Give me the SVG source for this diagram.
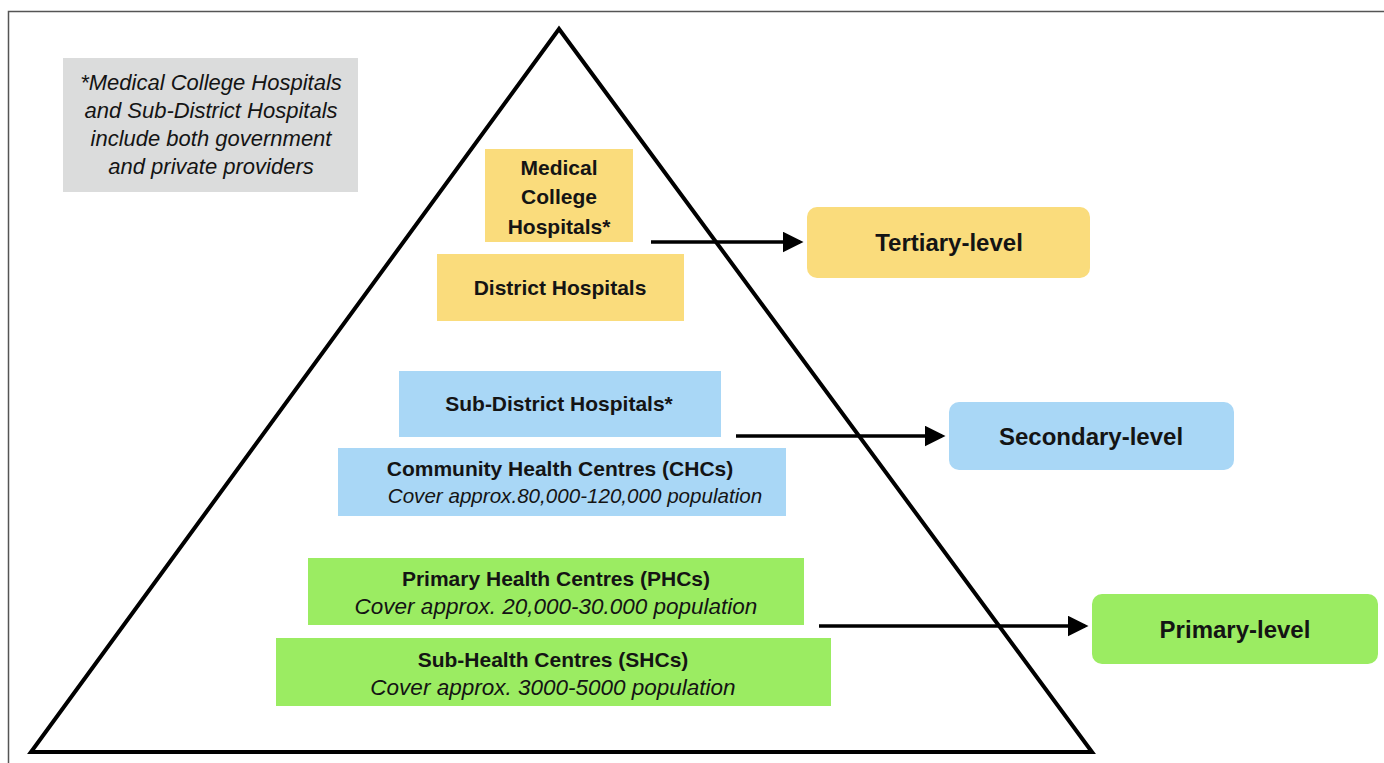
<svg xmlns="http://www.w3.org/2000/svg" width="1384" height="763" viewBox="0 0 1384 763">
<style>
.b{font-family:"Liberation Sans",Arial,sans-serif;font-weight:bold;font-size:21px;fill:#141414;text-anchor:middle}
.i{font-family:"Liberation Sans",Arial,sans-serif;font-style:italic;font-size:20.6px;fill:#141414;text-anchor:middle}
.n{font-size:22px}
.p{font-size:22.5px}
.lv{font-size:24px}
.y{fill:#fadc7c}
.bl{fill:#a9d7f6}
.g{fill:#9bec62}
.c{stroke:#000;stroke-width:3.5;fill:none}
</style>
<defs>
<marker id="ah" markerWidth="6" markerHeight="6" refX="5" refY="3" orient="auto" markerUnits="strokeWidth">
<path d="M0,0 L6,3 L0,6 z" fill="#000"/>
</marker>
</defs>
<rect width="1384" height="763" fill="#fff"/>
<path d="M8.5,763 V11.5 H1384" stroke="#555" stroke-width="1.5" fill="none"/>
<g id="pyramid">
<polygon points="559,29 31,752 1092,752" fill="none" stroke="#000" stroke-width="4" stroke-linejoin="miter"/>
</g>
<g id="note">
<rect x="63" y="58" width="295" height="134" fill="#dbdcdc"/>
<text class="i n" x="211" y="90">*Medical College Hospitals</text>
<text class="i n" x="211" y="118">and Sub-District Hospitals</text>
<text class="i n" x="211" y="146">include both government</text>
<text class="i n" x="211" y="174">and private providers</text>
</g>
<g id="medical-college">
<rect class="y" x="485" y="149" width="148" height="93"/>
<text class="b" x="559" y="175">Medical</text>
<text class="b" x="559" y="204">College</text>
<text class="b" x="559" y="234">Hospitals*</text>
</g>
<g id="district">
<rect class="y" x="437" y="254" width="247" height="67"/>
<text class="b" x="560" y="295">District Hospitals</text>
</g>
<g id="sub-district">
<rect class="bl" x="399" y="371" width="322" height="66"/>
<text class="b" x="559" y="411">Sub-District Hospitals*</text>
</g>
<g id="chc">
<rect class="bl" x="338" y="448" width="448" height="68"/>
<text class="b" x="560" y="476">Community Health Centres (CHCs)</text>
<text class="i" x="575" y="503">Cover approx.80,000-120,000 population</text>
</g>
<g id="phc">
<rect class="g" x="308" y="558" width="496" height="67"/>
<text class="b" x="556" y="586">Primary Health Centres (PHCs)</text>
<text class="i p" x="556" y="614">Cover approx. 20,000-30.000 population</text>
</g>
<g id="shc">
<rect class="g" x="276" y="638" width="555" height="68"/>
<text class="b" x="553" y="667">Sub-Health Centres (SHCs)</text>
<text class="i p" x="553" y="695">Cover approx. 3000-5000 population</text>
</g>
<g id="tertiary">
<rect class="y" x="807" y="207" width="283" height="71" rx="10"/>
<text class="b lv" x="949" y="251">Tertiary-level</text>
</g>
<g id="secondary">
<rect class="bl" x="949" y="402" width="285" height="68" rx="10"/>
<text class="b lv" x="1091" y="445">Secondary-level</text>
</g>
<g id="primary">
<rect class="g" x="1092" y="594" width="286" height="70" rx="10"/>
<text class="b lv" x="1235" y="638">Primary-level</text>
</g>
<g id="connectors">
<line class="c" x1="651" y1="242" x2="800" y2="242" marker-end="url(#ah)"/>
<line class="c" x1="736" y1="436" x2="942" y2="436" marker-end="url(#ah)"/>
<line class="c" x1="819" y1="626" x2="1085" y2="626" marker-end="url(#ah)"/>
</g>
</svg>
